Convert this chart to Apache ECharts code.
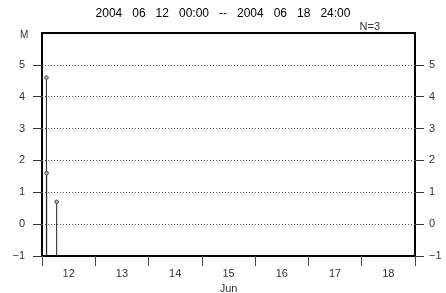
<!DOCTYPE html>
<html>
<head>
<meta charset="utf-8">
<script src="https://cdn.jsdelivr.net/npm/echarts@6/dist/echarts.min.js"></script>
<style>
  html, body { margin: 0; padding: 0; background: #fff; }
  #chart { width: 446px; height: 293px; }
</style>
</head>
<body>
<div id="chart"></div>
<script>
// hours since 2004-06-12 00:00 and magnitude
const eventHours = [2.0, 2.1, 6.6]
const magnitudes = [4.6, 1.6, 0.7]
const dayLabels = ['12', '13', '14', '15', '16', '17', '18']
const yTicks = [-1, 0, 1, 2, 3, 4, 5]

const FONT = '"Liberation Sans", Arial, sans-serif'
const chart = echarts.init(document.getElementById('chart'))

const yAxisBase = {
  type: 'value',
  min: -1,
  max: 6,
  interval: 1,
  axisLine: { show: false },
  axisTick: { show: true, inside: false, length: 9, lineStyle: { color: '#333' }, customValues: yTicks },
  axisLabel: { color: '#333', fontSize: 11, fontFamily: FONT, customValues: yTicks, formatter: v => v < 0 ? '\u2212' + Math.abs(v) : String(v) }
}

chart.setOption({
  animation: false,
  title: {
    text: '2004   06   12   00:00   --   2004   06   18   24:00',
    left: 'center',
    top: 3,
    textStyle: { fontSize: 12, fontWeight: 'normal', color: '#000', fontFamily: FONT }
  },
  graphic: [
    { type: 'text', left: 20, top: 30, style: { text: 'M', fontSize: 10, fill: '#333', fontFamily: FONT } },
    { type: 'text', right: 66, top: 21, style: { text: 'N=3', fontSize: 11, fill: '#333', fontFamily: FONT } }
  ],
  grid: {
    left: 42, right: 31, top: 33, bottom: 37,
    containLabel: false,
    outerBoundsMode: 'none',
    show: true, borderColor: '#000', borderWidth: 2, backgroundColor: 'transparent'
  },
  xAxis: [
    {
      type: 'value',
      min: 0,
      max: 168,
      interval: 24,
      axisLine: { show: true, onZero: false, lineStyle: { color: '#000', width: 2 } },
      axisTick: { show: true, inside: false, length: 10, lineStyle: { color: '#444' } },
      axisLabel: { show: false },
      splitLine: { show: false }
    },
    {
      type: 'category',
      position: 'bottom',
      data: dayLabels,
      boundaryGap: true,
      axisLine: { show: false, onZero: false },
      axisTick: { show: false },
      axisLabel: { color: '#333', fontSize: 11, fontFamily: FONT, margin: 12 },
      name: 'Jun',
      nameLocation: 'middle',
      nameGap: 27,
      nameTextStyle: { color: '#333', fontSize: 11, fontFamily: FONT }
    }
  ],
  yAxis: [
    Object.assign({}, yAxisBase, {
      position: 'left',
      axisLabel: Object.assign({}, yAxisBase.axisLabel, { margin: 17 }),
      splitLine: { show: true, lineStyle: { color: '#555', type: [1, 2], width: 1 } }
    }),
    Object.assign({}, yAxisBase, {
      position: 'right',
      axisLabel: Object.assign({}, yAxisBase.axisLabel, { margin: 14 }),
      splitLine: { show: false }
    })
  ],
  series: [{
    type: 'custom',
    xAxisIndex: 0,
    yAxisIndex: 0,
    data: eventHours.map((h, i) => [h, magnitudes[i]]),
    renderItem: (params, api) => {
      const base = api.coord([api.value(0), -1])
      const top = api.coord([api.value(0), api.value(1)])
      return {
        type: 'group',
        children: [
          { type: 'line', shape: { x1: base[0], y1: base[1], x2: top[0], y2: top[1] + 2 }, style: { stroke: '#222', lineWidth: 1 } },
          { type: 'circle', shape: { cx: top[0], cy: top[1], r: 1.8 }, style: { fill: '#bbb', stroke: '#444', lineWidth: 1 } }
        ]
      }
    }
  }]
})
</script>
</body>
</html>
